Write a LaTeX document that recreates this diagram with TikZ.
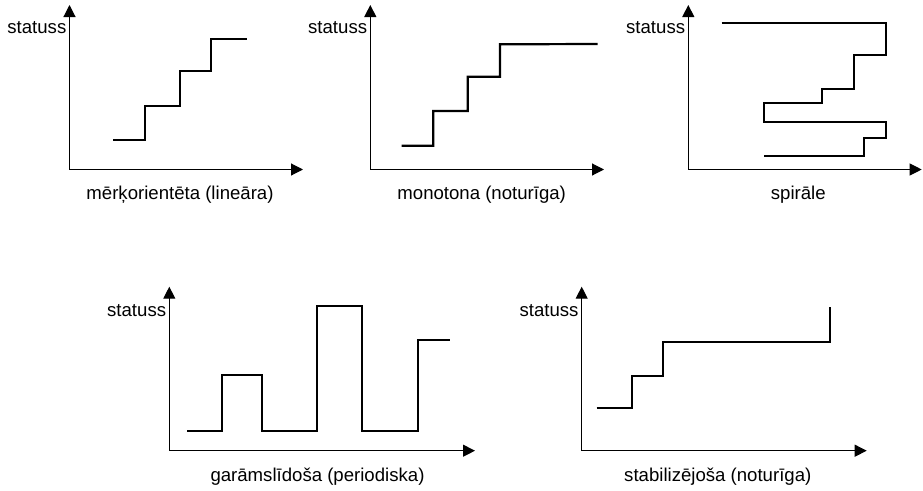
\documentclass[tikz,border=0pt]{standalone}
\usepackage{fontspec}
\setmainfont{Liberation Sans}
\usetikzlibrary{arrows.meta}
\begin{document}
\begin{tikzpicture}[x=1pt,y=-1pt,
  axis/.style={line width=1.1pt,-{Triangle[length=12pt,width=12pt]}},
  curve/.style={line width=2.2pt,line join=miter,line cap=butt},
  ylab/.style={anchor=base east,inner sep=0pt,font=\fontsize{18.6}{22}\selectfont},
  xlab/.style={anchor=base,inner sep=0pt,font=\fontsize{18.6}{22}\selectfont}]
\useasboundingbox (0,0) rectangle (923,490);
% Panel 1
\coordinate (o1) at (69.5,169.5);
\coordinate (y1) at (69.5,5);
\coordinate (x1) at (303,169.5);
\draw[axis] (o1) -- (y1);
\draw[axis] (o1) -- (x1);
\node[ylab] (s1) at (66.5,33) {statuss};
\node[xlab] (l1) at (180,199.5) {mērķorientēta (lineāra)};
\draw[curve] (113,140) -- (145,140) -- (145,105.7) -- (180,105.7) -- (180,70.7) -- (211,70.7) -- (211,39.3) -- (246.7,39.3);
% Panel 2
\coordinate (o2) at (370.3,169.5);
\coordinate (y2) at (370.3,5);
\coordinate (x2) at (604,169.5);
\draw[axis] (o2) -- (y2);
\draw[axis] (o2) -- (x2);
\node[ylab] (s2) at (367.3,33) {statuss};
\node[xlab] (l2) at (481.7,199.5) {monotona (noturīga)};
\draw[curve] (401.7,145.7) -- (433.3,145.7) -- (433.3,111) -- (467.7,111) -- (467.7,76.7) -- (500,76.7) -- (500,44.3) -- (597.7,44);
% Panel 3
\coordinate (o3) at (688.3,169.5);
\coordinate (y3) at (688.3,5);
\coordinate (x3) at (921.7,169.5);
\draw[axis] (o3) -- (y3);
\draw[axis] (o3) -- (x3);
\node[ylab] (s3) at (685.3,33) {statuss};
\node[xlab] (l3) at (798.3,199.5) {spirāle};
\draw[curve] (721.7,23.3) -- (885.7,23.3) -- (885.7,55) -- (854,55) -- (854,89.3) -- (822.3,89.3) -- (822.3,102.7) -- (764,102.7) -- (764,121.7) -- (885.7,121.7) -- (885.7,138.3) -- (864.3,138.3) -- (864.3,155.7) -- (764,155.7);
% Panel 4
\coordinate (o4) at (169.3,450.7);
\coordinate (y4) at (169.3,286.7);
\coordinate (x4) at (475,450.7);
\draw[axis] (o4) -- (y4);
\draw[axis] (o4) -- (x4);
\node[ylab] (s4) at (166.3,316) {statuss};
\node[xlab] (l4) at (317.5,481.5) {garāmslīdoša (periodiska)};
\draw[curve] (187.3,430.7) -- (222.3,430.7) -- (222.3,375) -- (262.3,375) -- (262.3,430.7) -- (317.3,430.7) -- (317.3,305.7) -- (362.3,305.7) -- (362.3,430.7) -- (418.3,430.7) -- (418.3,340) -- (450,340);
% Panel 5
\coordinate (o5) at (581.7,450.7);
\coordinate (y5) at (581.7,286.7);
\coordinate (x5) at (866.7,450.7);
\draw[axis] (o5) -- (y5);
\draw[axis] (o5) -- (x5);
\node[ylab] (s5) at (578.7,316) {statuss};
\node[xlab] (l5) at (717.8,481.5) {stabilizējoša (noturīga)};
\draw[curve] (596.7,408.3) -- (631.7,408.3) -- (631.7,376) -- (663.3,376) -- (663.3,341.7) -- (830,341.7) -- (830,306.7);
\end{tikzpicture}
\end{document}
